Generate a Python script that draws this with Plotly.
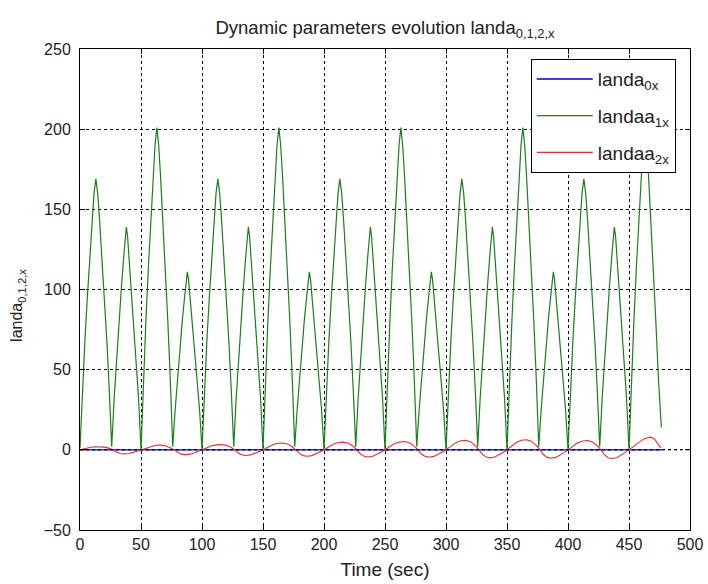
import plotly.graph_objects as go

# ---------------- data ----------------
green_time = [
    0, 2, 4, 6, 8, 10, 11.5, 13, 14.5, 16, 18, 20, 22, 24,
    26, 28, 30, 32, 34, 36, 37, 38, 39, 40, 42, 44, 46, 48,
    50, 52, 54, 56, 58, 60, 61.5, 63, 64.5, 66, 68, 70, 72, 74,
    76, 78, 80, 82, 84, 86, 87, 88, 89, 90, 92, 94, 96, 98,
    100, 102, 104, 106, 108, 110, 111.5, 113, 114.5, 116, 118, 120, 122, 124,
    126, 128, 130, 132, 134, 136, 137, 138, 139, 140, 142, 144, 146, 148,
    150, 152, 154, 156, 158, 160, 161.5, 163, 164.5, 166, 168, 170, 172, 174,
    176, 178, 180, 182, 184, 186, 187, 188, 189, 190, 192, 194, 196, 198,
    200, 202, 204, 206, 208, 210, 211.5, 213, 214.5, 216, 218, 220, 222, 224,
    226, 228, 230, 232, 234, 236, 237, 238, 239, 240, 242, 244, 246, 248,
    250, 252, 254, 256, 258, 260, 261.5, 263, 264.5, 266, 268, 270, 272, 274,
    276, 278, 280, 282, 284, 286, 287, 288, 289, 290, 292, 294, 296, 298,
    300, 302, 304, 306, 308, 310, 311.5, 313, 314.5, 316, 318, 320, 322, 324,
    326, 328, 330, 332, 334, 336, 337, 338, 339, 340, 342, 344, 346, 348,
    350, 352, 354, 356, 358, 360, 361.5, 363, 364.5, 366, 368, 370, 372, 374,
    376, 378, 380, 382, 384, 386, 387, 388, 389, 390, 392, 394, 396, 398,
    400, 402, 404, 406, 408, 410, 411.5, 413, 414.5, 416, 418, 420, 422, 424,
    426, 428, 430, 432, 434, 436, 437, 438, 439, 440, 442, 444, 446, 448,
    450, 452, 454, 456, 458, 460, 461.5, 463, 464.5, 466, 468, 470, 472, 474, 476.5,
]
green_value = [
    1, 37, 68, 95, 120, 144, 160, 169, 160, 144, 120, 95, 68, 37,
    2, 32, 57, 80, 102, 122, 133, 139, 133, 122, 102, 80, 57, 32,
    0, 44, 80, 113, 143, 171, 190, 201, 190, 171, 143, 113, 80, 44,
    2, 25, 46, 64, 82, 97, 106, 111, 106, 97, 82, 64, 46, 25,
    0, 37, 68, 95, 120, 144, 160, 169, 160, 144, 120, 95, 68, 37,
    2, 32, 57, 80, 102, 122, 133, 139, 133, 122, 102, 80, 57, 32,
    0, 44, 80, 113, 143, 171, 190, 201, 190, 171, 143, 113, 80, 44,
    2, 25, 46, 64, 82, 97, 106, 111, 106, 97, 82, 64, 46, 25,
    0, 37, 68, 95, 120, 144, 160, 169, 160, 144, 120, 95, 68, 37,
    2, 32, 57, 80, 102, 122, 133, 139, 133, 122, 102, 80, 57, 32,
    0, 44, 80, 113, 143, 171, 190, 201, 190, 171, 143, 113, 80, 44,
    2, 25, 46, 64, 82, 97, 106, 111, 106, 97, 82, 64, 46, 25,
    0, 37, 68, 95, 120, 144, 160, 169, 160, 144, 120, 95, 68, 37,
    2, 32, 57, 80, 102, 122, 133, 139, 133, 122, 102, 80, 57, 32,
    0, 44, 80, 113, 143, 171, 190, 201, 190, 171, 143, 113, 80, 44,
    2, 25, 46, 64, 82, 97, 106, 111, 106, 97, 82, 64, 46, 25,
    0, 37, 68, 95, 120, 144, 160, 169, 160, 144, 120, 95, 68, 37,
    2, 32, 57, 80, 102, 122, 133, 139, 133, 122, 102, 80, 57, 32,
    0, 44, 80, 113, 143, 171, 190, 201, 190, 171, 143, 113, 80, 46, 14,
]

red_time = [
    0, 4, 8, 12, 16, 20, 24, 27, 30, 33, 36, 40, 44, 47,
    50, 54, 58, 62, 66, 70, 74, 77, 80, 83, 86, 90, 94, 97,
    100, 104, 108, 112, 116, 120, 124, 127, 130, 133, 136, 140, 144, 147,
    150, 154, 158, 162, 166, 170, 174, 177, 180, 183, 186, 190, 194, 197,
    200, 204, 208, 212, 216, 220, 224, 227, 230, 233, 236, 240, 244, 247,
    250, 254, 258, 262, 266, 270, 274, 277, 280, 283, 286, 290, 294, 297,
    300, 304, 308, 312, 316, 320, 324, 327, 330, 333, 336, 340, 344, 347,
    350, 354, 358, 362, 366, 370, 374, 377, 380, 383, 386, 390, 394, 397,
    400, 404, 408, 412, 416, 420, 424, 427, 430, 433, 436, 440, 444, 447,
    450, 454, 458, 462, 466, 468, 471, 474, 476,
]
red_value = [
    0, 0.8, 1.5, 1.9, 2.0, 1.7, 0.9, 0, -1.5, -2.25, -2.5, -2.25, -1.5, -0.75,
    0, 1.2, 2.25, 2.85, 3.0, 2.55, 1.35, 0, -1.8, -2.7, -3.0, -2.7, -1.8, -0.9,
    0, 1.3, 2.5, 3.1, 3.3, 2.8, 1.5, 0, -2.1, -3.15, -3.5, -3.15, -2.1, -1.05,
    0, 1.7, 3.2, 4.1, 4.3, 3.7, 1.9, 0, -2.4, -3.6, -4.0, -3.6, -2.4, -1.2,
    0, 1.9, 3.6, 4.6, 4.8, 4.1, 2.2, 0, -2.7, -4.0, -4.5, -4.0, -2.7, -1.35,
    0, 2.1, 3.9, 4.9, 5.2, 4.4, 2.3, 0, -2.8, -4.1, -4.6, -4.1, -2.8, -1.4,
    0, 2.4, 4.5, 5.7, 6.0, 5.1, 2.7, 0, -3.0, -4.5, -5.0, -4.5, -3.0, -1.5,
    0, 2.5, 4.7, 6.0, 6.3, 5.4, 2.8, 0, -3.1, -4.7, -5.2, -4.7, -3.1, -1.6,
    0, 2.3, 4.4, 5.5, 5.8, 4.9, 2.6, 0, -3.2, -4.9, -5.4, -4.9, -3.2, -1.6,
    0, 2.4, 4.8, 6.8, 7.7, 7.9, 6.6, 3.8, 1.2,
]

blue_time = [0, 477]
blue_value = [0, 0]

series_names = ["landa<sub>0x</sub>", "landaa<sub>1x</sub>", "landaa<sub>2x</sub>"]
x_ticks = [0, 50, 100, 150, 200, 250, 300, 350, 400, 450, 500]
y_ticks = [-50, 0, 50, 100, 150, 200, 250]

# ---------------- figure ----------------
FONT = "Liberation Sans, Arial, sans-serif"
INK = "#222"

fig = go.Figure()
fig.add_trace(go.Scatter(x=blue_time, y=blue_value, mode="lines", name=series_names[0],
                         legendgroup="a", line=dict(color="#0000c8", width=1.4)))
fig.add_trace(go.Scatter(x=green_time, y=green_value, mode="lines", name=series_names[1],
                         legendgroup="b", line=dict(color="#1a7f1a", width=1.2)))
fig.add_trace(go.Scatter(x=red_time, y=red_value, mode="lines", name=series_names[2],
                         legendgroup="c", line=dict(color="#e03030", width=1.1)))

axis_common = dict(
    showline=True, linecolor="black", linewidth=1, mirror="ticks",
    ticks="inside", ticklen=5, tickcolor="black",
    showgrid=True, gridcolor="black", gridwidth=1, griddash="3px,3px",
    zeroline=False, automargin=False,
    tickfont=dict(family=FONT, size=16, color=INK),
)

fig.update_layout(
    width=708, height=584,
    margin=dict(l=80, r=18, t=49, b=54),
    paper_bgcolor="white", plot_bgcolor="white",
    font=dict(family=FONT, size=16, color=INK),
    title=dict(text="Dynamic parameters evolution landa<sub>0,1,2,x</sub>",
               x=0.5, xref="paper", xanchor="center", y=0.953, yref="container",
               yanchor="middle", font=dict(family=FONT, size=18.5, color=INK)),
    xaxis=dict(range=[0, 500], tickvals=x_ticks,
               title=dict(text="Time (sec)", standoff=10), **axis_common),
    yaxis=dict(range=[-50, 250], tickvals=y_ticks, ticklabelstandoff=5, **axis_common),
    legend=dict(x=0.739, y=0.979, xanchor="left", yanchor="top",
                bgcolor="white", bordercolor="black", borderwidth=1,
                font=dict(family=FONT, size=19, color=INK), itemwidth=56,
                tracegroupgap=9),
    showlegend=True,
)

# y-axis title, placed slightly below the plot centre as in the reference
fig.add_annotation(text="landa<sub>0,1,2,x</sub>", textangle=-90, showarrow=False,
                   xref="paper", yref="paper", x=-0.1016, y=0.466,
                   xanchor="center", yanchor="middle",
                   font=dict(family=FONT, size=16, color=INK))

# y = 0 dashed grid line appears on top of the blue trace in the reference
fig.add_shape(type="line", xref="paper", yref="y", x0=0, x1=1, y0=0, y1=0,
              line=dict(color="black", width=1, dash="3px,3px"), layer="above")

fig.write_html("out.html")
